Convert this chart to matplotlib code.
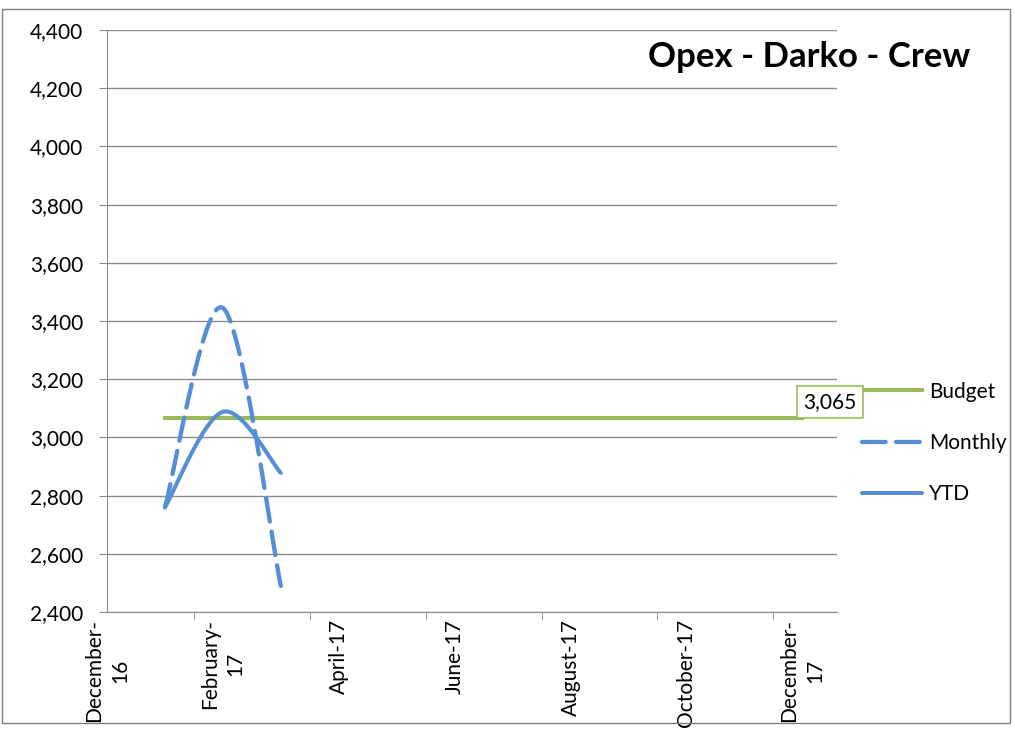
import matplotlib
matplotlib.use("Agg")
import matplotlib.pyplot as plt
from matplotlib.patches import Rectangle
from matplotlib.ticker import FuncFormatter
import numpy as np

plt.rcParams['font.family'] = ['Lato', 'DejaVu Sans']

# month index: 0 = December-16, 1 = January-17 ... 12 = December-17
tick_pos = [0, 2, 4, 6, 8, 10, 12]
tick_labels = ["December-\n16", "February-\n17", "April-17", "June-17",
               "August-17", "October-17", "December-\n17"]

budget_x = [1, 2, 3, 4, 5, 6, 7, 8, 9, 10, 11, 12]
budget = [3065, 3065, 3065, 3065, 3065, 3065, 3065, 3065, 3065, 3065, 3065, 3065]

actual_x = [1, 2, 3]
monthly = [2760, 3445, 2490]
ytd = [2760, 3088, 2878]

GREEN = '#9BBB59'
BLUE = '#558ED5'
GREY = '#8c8c8c'


def smooth(xs, ys, n=40):
    # excel-like smoothed line (bezier through the points)
    p = np.column_stack([xs, ys]).astype(float)
    out = [p[0]]
    for i in range(len(p) - 1):
        prev = p[i - 1] if i > 0 else p[i]
        nxt = p[i + 2] if i + 2 < len(p) else p[i + 1]
        c1 = p[i] + (p[i + 1] - prev) / 6
        c2 = p[i + 1] - (nxt - p[i]) / 6
        t = np.linspace(0, 1, n)[1:, None]
        seg = ((1 - t) ** 3 * p[i] + 3 * (1 - t) ** 2 * t * c1
               + 3 * (1 - t) * t ** 2 * c2 + t ** 3 * p[i + 1])
        out.extend(seg)
    out = np.array(out)
    return out[:, 0], out[:, 1]


fig = plt.figure(figsize=(10.15, 7.3), dpi=100)
ax = fig.add_axes([107 / 1015, 1 - 612 / 730, 730 / 1015, 582 / 730])

ax.plot(budget_x, budget, color=GREEN, lw=2.9, label="Budget", zorder=3)
mx, my = smooth(actual_x, monthly)
ax.plot(mx, my, color=BLUE, lw=3.1, dashes=(5.5, 2.4), dash_capstyle='round',
        label="Monthly", zorder=4)
yx, yy = smooth(actual_x, ytd)
ax.plot(yx, yy, color=BLUE, lw=2.9, solid_capstyle='round', label="YTD", zorder=4)

ax.annotate("{:,}".format(budget[-1]), xy=(budget_x[-1], budget[-1]),
            xytext=(20, 12), textcoords='offset points', ha='center', va='center',
            fontsize=15, zorder=6,
            bbox=dict(boxstyle='square,pad=0.3', fc='white', ec=GREEN, lw=1.2))

ax.set_xlim(0, 12.6)
ax.set_ylim(2400, 4400)
ax.set_yticks(np.arange(2400, 4401, 200))
ax.yaxis.set_major_formatter(FuncFormatter(lambda v, p: "{:,.0f}".format(v)))
ax.grid(axis='y', color=GREY, lw=1)
ax.set_axisbelow(True)

ax.set_xticks(tick_pos)
ax.set_xticklabels(tick_labels, rotation=90, ha='center', va='top',
                   multialignment='center', linespacing=1.35)
ax.set_xticks([1.5, 3.5, 5.5, 7.5, 9.5, 11.5], minor=True)
ax.tick_params(axis='x', which='major', length=0, pad=5, labelsize=15)
ax.tick_params(axis='x', which='minor', length=6, color=GREY, direction='out')
ax.tick_params(axis='y', length=6, color=GREY, pad=11, labelsize=15)

for s in ['top', 'right']:
    ax.spines[s].set_visible(False)
for s in ['left', 'bottom']:
    ax.spines[s].set_color(GREY)

fig.text(970 / 1015, 1 - 57 / 730, "Opex - Darko - Crew", ha='right', va='center',
         fontsize=25, fontweight='bold')

ax.legend(loc='center left', bbox_to_anchor=(862 / 1015, 1 - 443 / 730),
          bbox_transform=fig.transFigure, frameon=False, fontsize=15,
          handlelength=2.9, handletextpad=0.3, labelspacing=1.5,
          borderpad=0, borderaxespad=0)

fig.patches.append(Rectangle((2 / 1015, 1 - 723 / 730), 1008 / 1015, 714 / 730,
                             transform=fig.transFigure, fill=False,
                             ec='#7f7f7f', lw=1))

fig.savefig("out.png", dpi=100)
